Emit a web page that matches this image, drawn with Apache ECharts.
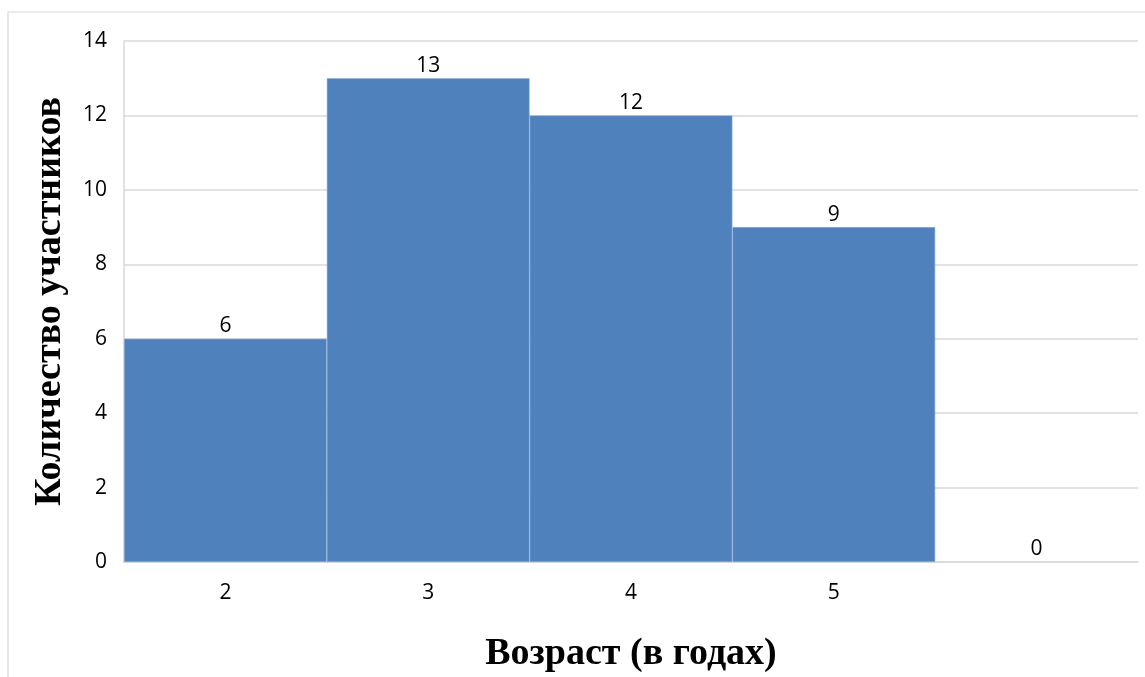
<!DOCTYPE html>
<html><head><meta charset="utf-8">
<script src="https://cdn.jsdelivr.net/npm/echarts@6/dist/echarts.min.js"></script>
<style>html,body{margin:0;padding:0;background:#fff}#c{width:1145px;height:677px}</style>
</head><body><div id="c"></div>
<script>
const categories = ['2', '3', '4', '5', ''];
const counts = [6, 13, 12, 9, 0];
const yTicks = [0, 2, 4, 6, 8, 10, 12, 14];

const chart = echarts.init(document.getElementById('c'), null, {renderer: 'canvas'});
chart.setOption({
  backgroundColor: '#fff',
  animation: false,
  graphic: [{
    type: 'rect', shape: {x: 8, y: 12, width: 1150, height: 680},
    style: {fill: 'none', stroke: '#d9d9d9', lineWidth: 1.2}, z: 0
  }],
  grid: {left: 124, right: 7, top: 41, bottom: 115, containLabel: false, outerBoundsMode: 'none'},
  xAxis: {
    type: 'category', data: categories,
    axisLine: {show: true, lineStyle: {color: '#d9d9d9', width: 1.5}},
    axisTick: {show: false},
    axisLabel: {color: '#000', fontFamily: 'Open Sans', fontSize: 21, margin: 21},
    name: 'Возраст (в годах)', nameLocation: 'middle', nameGap: 73,
    nameTextStyle: {fontFamily: 'Liberation Serif', fontWeight: 'bold', fontSize: 38, color: '#000'}
  },
  yAxis: {
    type: 'value', min: yTicks[0], max: yTicks[yTicks.length - 1], interval: 2,
    axisLine: {show: true, lineStyle: {color: '#d9d9d9', width: 1.5}},
    axisTick: {show: false},
    splitLine: {lineStyle: {color: '#d9d9d9', width: 1.5}},
    axisLabel: {color: '#000', fontFamily: 'Open Sans', fontSize: 21, margin: 17},
    name: 'Количество участников', nameLocation: 'middle', nameGap: 55, nameRotate: 90,
    nameTextStyle: {fontFamily: 'Liberation Serif', fontWeight: 'bold', fontSize: 38, color: '#000'}
  },
  series: [{
    type: 'bar', barCategoryGap: '0%',
    data: counts.map(v => ({value: v, itemStyle: v === 0 ? {borderWidth: 0} : {}})),
    itemStyle: {color: '#4F81BD', borderColor: '#8fb0da', borderWidth: 0.6},
    label: {show: true, position: 'top', color: '#000', fontFamily: 'Open Sans', fontSize: 21, distance: 2}
  }]
});
</script></body></html>
